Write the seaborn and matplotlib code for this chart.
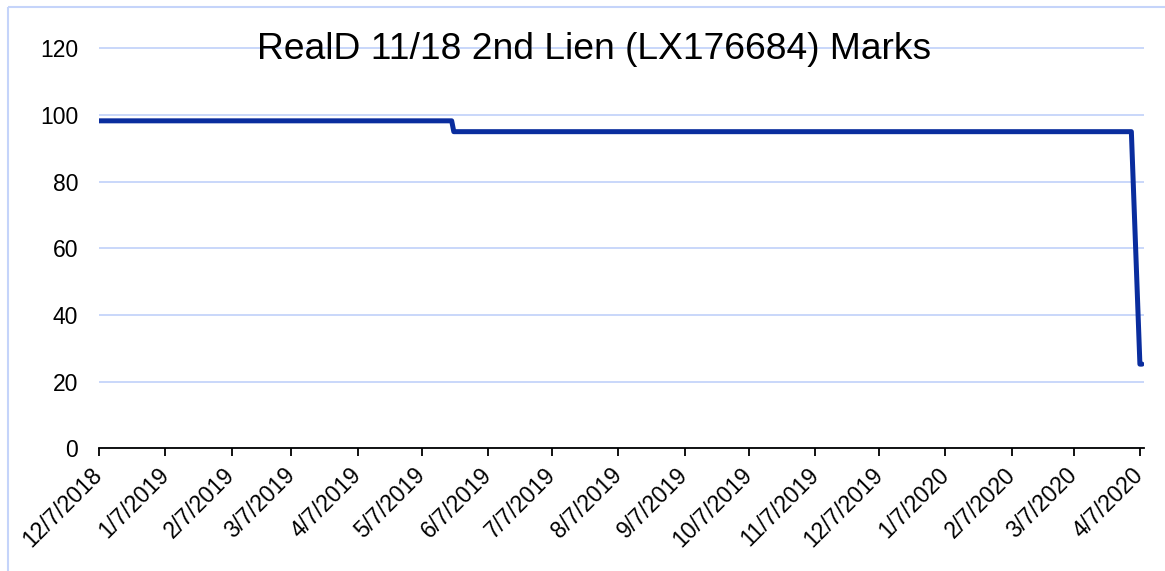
import pandas as pd
import seaborn as sns
import matplotlib.pyplot as plt
from matplotlib.patches import Rectangle

# breakpoints of the marks series
mark_dates = ["2018-12-07", "2019-05-21", "2019-05-22", "2020-04-03", "2020-04-07", "2020-04-08"]
mark_values = [98.25, 98.25, 95.0, 95.0, 25.25, 25.25]

tick_dates = ["2018-12-07", "2019-01-07", "2019-02-07", "2019-03-07", "2019-04-07",
              "2019-05-07", "2019-06-07", "2019-07-07", "2019-08-07", "2019-09-07",
              "2019-10-07", "2019-11-07", "2019-12-07", "2020-01-07", "2020-02-07",
              "2020-03-07", "2020-04-07"]
tick_labels = ["12/7/2018", "1/7/2019", "2/7/2019", "3/7/2019", "4/7/2019", "5/7/2019",
               "6/7/2019", "7/7/2019", "8/7/2019", "9/7/2019", "10/7/2019", "11/7/2019",
               "12/7/2019", "1/7/2020", "2/7/2020", "3/7/2020", "4/7/2020"]
y_ticks = [0, 20, 40, 60, 80, 100, 120]

title = "RealD 11/18 2nd Lien (LX176684) Marks"

sns.set_theme(style="white")
plt.rcParams['font.family'] = ['Liberation Sans', 'DejaVu Sans']
plt.rcParams['text.color'] = 'black'
plt.rcParams['xtick.color'] = 'black'
plt.rcParams['ytick.color'] = 'black'

df = pd.DataFrame({"date": pd.to_datetime(mark_dates), "mark": mark_values})

fig = plt.figure(figsize=(11.65, 5.71), dpi=100)
ax = fig.add_axes([99 / 1165, 1 - 448.3 / 571, 1045 / 1165, 121 * 3.333 / 571])

sns.lineplot(data=df, x="date", y="mark", ax=ax, color="#0a2d9e", linewidth=3.6,
             solid_capstyle="round", solid_joinstyle="round")

ax.set_ylim(0, 121)
ax.set_xlim(pd.Timestamp("2018-12-07"), pd.Timestamp("2020-04-08 22:00"))
ax.set_yticks(y_ticks)
ax.set_xticks(pd.to_datetime(tick_dates))
ax.set_xticklabels(tick_labels, rotation=45, ha="right", va="center", rotation_mode="anchor")
ax.set_xlabel("")
ax.set_ylabel("")

ax.grid(axis="y", color="#c5d4fa", linewidth=1.3)
ax.grid(axis="x", visible=False)
for s in ["left", "right", "top"]:
    ax.spines[s].set_visible(False)
ax.spines["bottom"].set_color("black")
ax.spines["bottom"].set_linewidth(1.3)
ax.tick_params(axis="x", direction="out", length=6, width=1.3, color="black",
               labelsize=16.5, pad=11, bottom=True)
ax.tick_params(axis="y", length=0, labelsize=16.5, pad=15)
ax.set_axisbelow(True)

fig.text(594 / 1165, 1 - 59 / 571, title, fontsize=26.8, ha="center", va="baseline",
         color="black")

fig.patches.append(Rectangle((8 / 1165, 1 - 7 / 571), 2, -2, transform=fig.transFigure,
                             fill=False, edgecolor="#c5d4fa", linewidth=1.5))

fig.savefig("out.png", dpi=100)
